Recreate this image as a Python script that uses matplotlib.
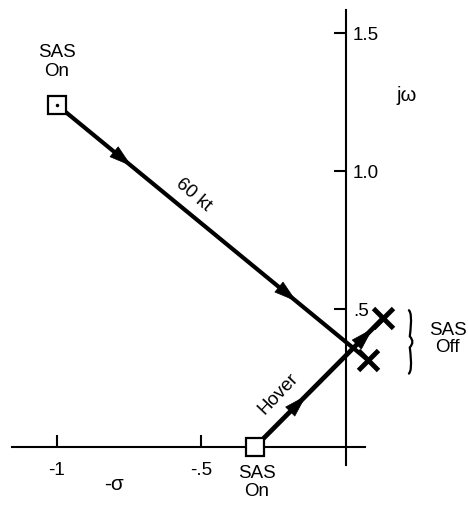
import numpy as np
import matplotlib
matplotlib.use("Agg")
import matplotlib.pyplot as plt
from matplotlib.path import Path
from matplotlib.patches import PathPatch

plt.rcParams['font.family'] = ['Liberation Sans', 'DejaVu Sans']

# polos (plano s: -sigma, j omega)
sas_on_60kt = (-1.0, 1.24)      # SAS On, 60 kt
sas_on_hover = (-0.315, 0.0)    # SAS On, hover
sas_off_60kt = (0.076, 0.315)   # SAS Off, 60 kt
sas_off_hover = (0.128, 0.467)  # SAS Off, hover

xticks = [-1, -0.5]
xtick_labels = ['-1', '-.5']
yticks = [0.5, 1.0, 1.5]
ytick_labels = ['.5', '1.0', '1.5']

# posiciones de las flechas sobre cada trayectoria (fraccion del recorrido)
arrows_60kt = [0.21, 0.74]
arrows_hover = [0.37, 0.89]

fig = plt.figure(figsize=(4.68, 5.05), dpi=100)
ax = fig.add_axes([0, 0, 1, 1])
ax.set_xlim(-1.197, 0.422)
ax.set_ylim(-0.21, 1.62)

# ejes tipo plano s
for s in ['left', 'top']:
    ax.spines[s].set_visible(False)
ax.spines['bottom'].set_position(('data', 0))
ax.spines['right'].set_position(('data', 0))
ax.spines['bottom'].set_bounds(-1.156, 0.066)
ax.spines['right'].set_bounds(-0.065, 1.583)
for s in ['bottom', 'right']:
    ax.spines[s].set_linewidth(1.5)
ax.yaxis.tick_right()
ax.set_xticks(xticks, xtick_labels)
ax.set_yticks(yticks, ytick_labels)
ax.tick_params(axis='x', direction='in', length=9, width=1.5, pad=11, labelsize=13.5)
ax.tick_params(axis='y', direction='in', length=9, width=1.5, pad=5, labelsize=13.5)


def trayectoria(p0, p1, ts, lw):
    ax.plot([p0[0], p1[0]], [p0[1], p1[1]], '-k', lw=lw, solid_capstyle='butt', zorder=2)
    d = np.array(p1) - np.array(p0)
    for t in ts:
        tip = np.array(p0) + d * (t + 0.03)
        tail = np.array(p0) + d * (t - 0.03)
        ax.annotate('', xy=tip, xytext=tail,
                    arrowprops=dict(arrowstyle='-|>,head_length=1.1,head_width=0.33',
                                    color='k', lw=0.5, shrinkA=0, shrinkB=0,
                                    mutation_scale=14), zorder=3)


def etiqueta(p0, p1, t, off, txt):
    d = np.array(p1) - np.array(p0)
    pt = np.array(p0) + d * t
    ang = np.degrees(np.arctan2(d[1], d[0]))
    # desplazamiento perpendicular en pantalla
    a_pix = ax.transData.transform([p0, p1])
    dp = a_pix[1] - a_pix[0]
    n = np.array([-dp[1], dp[0]]) / np.hypot(*dp)
    if n[1] < 0:
        n = -n
    ax.annotate(txt, xy=pt, xytext=(n[0] * off, n[1] * off), textcoords='offset points',
                rotation=ang, transform_rotates_text=True, rotation_mode='anchor',
                ha='center', va='center', fontsize=13.5)


trayectoria(sas_on_60kt, sas_off_60kt, arrows_60kt, 3)
trayectoria(sas_on_hover, sas_off_hover, arrows_hover, 3.4)

# polos SAS On (cuadrados) y SAS Off (cruces)
ax.plot(*zip(sas_on_60kt, sas_on_hover), 's', ms=12.5, mfc='white', mec='k', mew=1.6, zorder=4)
ax.plot(*sas_on_60kt, '.', color='k', ms=3, zorder=5)
ax.plot(*zip(sas_off_60kt, sas_off_hover), 'x', ms=14, mec='k', mew=3.5, zorder=4)

fig.canvas.draw()
etiqueta(sas_on_60kt, sas_off_60kt, 0.405, 12, '60 kt')
etiqueta(sas_on_hover, sas_off_hover, 0.30, 15, 'Hover')

ax.text(sas_on_60kt[0], sas_on_60kt[1] + 0.09, 'SAS\nOn', ha='center', va='bottom',
        fontsize=13.5, linespacing=1.15)
ax.text(sas_on_hover[0] + 0.006, sas_on_hover[1] - 0.065, 'SAS\nOn', ha='center', va='top',
        fontsize=13.5, linespacing=1.05)
ax.text(-0.804, -0.135, '-σ', ha='center', va='center', fontsize=15)
ax.text(0.208, 1.275, 'jω', ha='center', va='center', fontsize=14.5)

# llave de los polos SAS Off
y0 = sas_off_60kt[1] - 0.05
y1 = sas_off_hover[1] + 0.03
ym = 0.5 * (y0 + y1)
xb = 0.215
w = 0.014
verts = [(xb, y1), (xb + w * 1.2, y1 - 0.005), (xb + w * 0.4, ym + 0.02), (xb + w * 1.7, ym),
         (xb + w * 0.4, ym - 0.02), (xb + w * 1.2, y0 + 0.005), (xb, y0)]
codes = [Path.MOVETO] + [Path.CURVE3] * 6
ax.add_patch(PathPatch(Path(verts, codes), fill=False, lw=1.6, color='k'))
ax.text(0.352, ym + 0.01, 'SAS\nOff', ha='center', va='center', fontsize=13.5, linespacing=1.0)

fig.savefig('out.png', dpi=100)
